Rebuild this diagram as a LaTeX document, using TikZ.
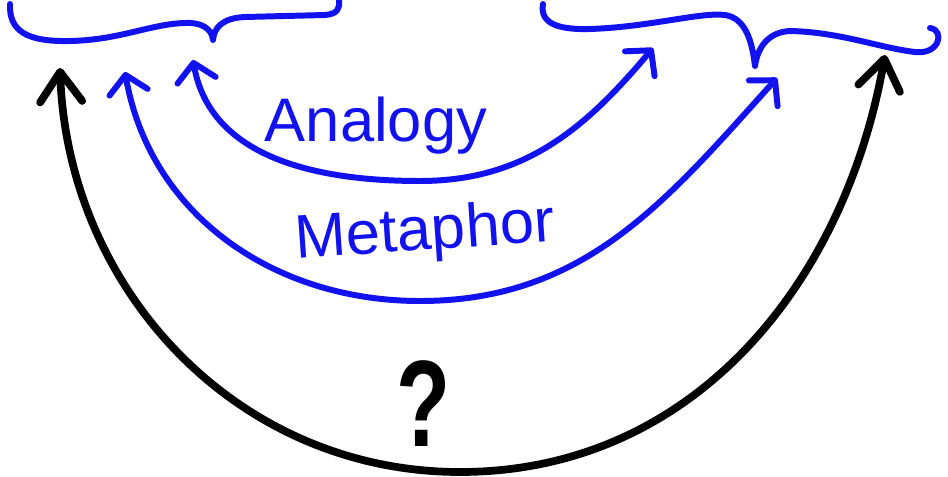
\documentclass[tikz,border=0pt]{standalone}
\usepackage{fontspec}
\setmainfont{Liberation Sans}
\usetikzlibrary{arrows.meta}
\definecolor{penblue}{RGB}{18,18,240}

\begin{document}
\begin{tikzpicture}[
        x=0.02cm, y=-0.02cm,
        brace/.style={draw=penblue, line width=3.4pt, line cap=round, line join=round},
        bluearc/.style={draw=penblue, line width=3.4pt, line cap=round,
            arrows={Straight Barb[length=10pt,width=22pt,round]-Straight Barb[length=10pt,width=22pt,round]}},
        blackarc/.style={draw=black, line width=4.4pt, line cap=round,
            arrows={Straight Barb[length=17pt,width=24pt,round]-Straight Barb[length=17pt,width=24pt,round]}},
        lbl/.style={text=penblue, font=\fontsize{35}{40}\selectfont}
    ]
        \useasboundingbox (0,0) rectangle (948,477);

        % Left brace
        \draw[brace] (10,4) .. controls (9,30) and (25,42) .. (70,41)
            .. controls (120,40) and (150,24) .. (185,23)
            .. controls (200,22) and (212,28) .. (213,40)
            .. controls (214,28) and (222,18) .. (245,17)
            -- (325,15) .. controls (338,14) and (340,8) .. (339,0);

        % Right brace
        \draw[brace] (543,4) .. controls (540,22) and (555,30) .. (590,29)
            .. controls (650,27) and (700,12) .. (725,15)
            .. controls (745,18) and (752,40) .. (755,66)
            .. controls (758,45) and (770,32) .. (790,31)
            .. controls (840,32) and (880,48) .. (915,52)
            .. controls (940,55) and (945,30) .. (930,28);

        % Arc ends
        \coordinate (anaL) at (193,60);
        \coordinate (anaB) at (420,181);
        \coordinate (anaR) at (653,48);
        \coordinate (metL) at (125,72);
        \coordinate (metB) at (420,301);
        \coordinate (metR) at (777,78);
        \coordinate (qL) at (60,68);
        \coordinate (qB) at (460,472);
        \coordinate (qR) at (885,55);

        % Arcs
        \draw[bluearc] (anaL) to[out=-80,in=180] (anaB) to[out=0,in=-130] (anaR);
        \draw[bluearc] (metL) to[out=-80,in=180] (metB) to[out=0,in=-132] (metR);
        \draw[blackarc] (qL) to[out=-88,in=180] (qB) to[out=0,in=-100] (qR);

        % Labels
        \node[lbl] (analogy) at (376,126) {Analogy};
        \node[lbl, rotate=4] (metaphor) at (425,234) {Metaphor};
        \node[font=\fontsize{70}{80}\selectfont\bfseries, xscale=0.72] (quest) at (424,404) {?};
    \end{tikzpicture}
\end{document}
